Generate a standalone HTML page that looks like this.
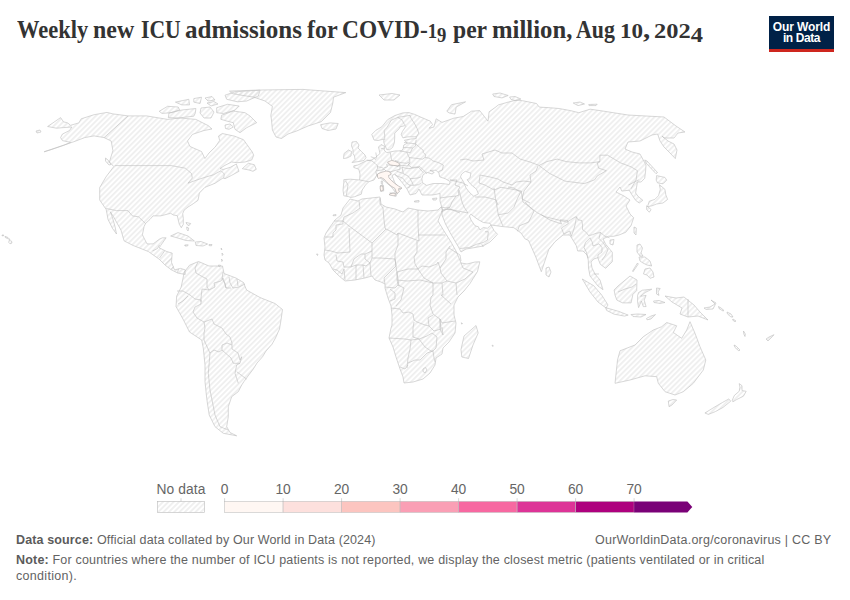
<!DOCTYPE html>
<html><head><meta charset="utf-8">
<style>
html,body{margin:0;padding:0;background:#fff;}
body{width:850px;height:600px;position:relative;overflow:hidden;font-family:"Liberation Sans",sans-serif;}
.t{position:absolute;white-space:nowrap;line-height:15px;}
#title{position:absolute;left:0;top:16px;width:850px;height:30px;}
.tw{position:absolute;top:0;white-space:nowrap;line-height:28px;font-family:"Liberation Serif",serif;font-weight:bold;font-size:25px;color:#333;transform-origin:0 0;}
.os{font-size:0.8em;}.dn{vertical-align:-0.2em;line-height:0;}
#logo{position:absolute;left:769px;top:16px;width:65px;height:36px;background:#002147;}
#logo .bar{position:absolute;left:0;bottom:0;width:65px;height:2.6px;background:#ce261e;}
#logo .l{position:absolute;left:0;width:65px;text-align:center;color:#fff;font-size:12px;font-weight:bold;line-height:12px;letter-spacing:-0.1px;}
.foot{font-size:12.5px;color:#636363;}
.foot b{color:#5b5b5b;}
.leg{font-size:13.8px;color:#666;}
</style></head>
<body>
<div id="title"><div class="tw" style="left:17.2px;transform:scaleX(0.8987)">Weekly</div><div class="tw" style="left:93.44px;transform:scaleX(0.9571)">new</div><div class="tw" style="left:140.93px;transform:scaleX(0.8659)">ICU</div><div class="tw" style="left:185.2px;transform:scaleX(1.0026)">admissions</div><div class="tw" style="left:306.6px;transform:scaleX(0.9645)">for</div><div class="tw" style="left:342.16px;transform:scaleX(0.9355)">COVID-<span class="os">1</span><span class="os dn">9</span></div><div class="tw" style="left:453.2px;transform:scaleX(0.9444)">per</div><div class="tw" style="left:491.91px;transform:scaleX(0.9886)">million,</div><div class="tw" style="left:576.3px;transform:scaleX(0.8727)">Aug</div><div class="tw" style="left:620.3px;transform:scaleX(1.1522)"><span class="os">10</span>,</div><div class="tw" style="left:654.48px;transform:scaleX(1.2231)"><span class="os">202</span><span class="os dn">4</span></div></div>
<div id="logo"><div class="l" style="top:4.6px">Our World</div><div class="l" style="top:16.4px;letter-spacing:-0.4px">in Data</div><div class="bar"></div></div>

<svg id="map" width="850" height="600" style="position:absolute;left:0;top:0">
<defs>
<pattern id="nd" patternUnits="userSpaceOnUse" width="3.77" height="3.77" patternTransform="rotate(-45 2 2)">
<path d="M -1,1.88 l 6,0" stroke="#e0e0e0" stroke-width="0.95"/>
</pattern>
</defs>
<g id="land" fill="url(#nd)" stroke="#bdbdbd" stroke-width="0.6" stroke-linejoin="round">
<polygon points="60.6,117.6 63.5,121.8 67.6,122.9 70.6,125.3 78.8,122.9 81.2,118.8 94.1,114.7 107.1,112.4 112.9,113.9 128.2,115.9 146.5,115.9 167.6,119.4 180.0,118.0 195.9,119.4 208.2,125.6 212.0,129.0 204.0,130.5 192.4,134.4 187.5,141.0 190.0,146.5 201.5,151.5 204.9,158.5 209.0,153.0 215.2,147.0 219.7,140.5 218.5,136.0 222.3,133.5 234.7,136.2 243.5,139.7 252.3,152.0 253.7,155.3 251.7,160.0 245.0,162.0 237.0,162.7 231.7,162.0 225.0,165.3 220.0,168.5 223.0,169.5 230.3,167.3 236.3,164.0 239.0,171.3 231.7,175.3 225.0,178.7 223.0,178.0 215.0,183.3 205.0,187.3 199.4,193.0 198.0,200.3 193.3,203.7 188.0,207.0 184.0,210.3 182.7,213.7 183.3,218.3 183.3,224.3 181.3,227.7 179.3,224.3 178.0,219.0 177.3,215.7 173.3,215.0 170.7,213.3 164.0,215.0 160.6,215.9 153.0,215.9 150.0,219.4 145.5,223.5 144.1,226.5 142.4,234.8 147.0,243.9 153.1,243.9 159.2,239.3 162.3,237.8 166.1,237.8 160.7,245.5 159.2,247.8 166.9,251.6 172.2,253.1 171.5,262.3 174.5,269.9 180.6,268.4 185.2,269.9 185.2,274.5 177.6,273.0 171.5,269.9 165.3,265.3 159.2,259.2 148.5,251.6 133.2,245.5 124.1,240.9 121.0,230.2 113.3,216.4 110.3,211.8 112.0,216.0 115.0,226.5 116.5,234.0 112.4,228.2 108.0,219.4 106.2,209.5 99.7,200.0 99.7,187.6 105.9,177.0 113.8,166.5 109.4,162.0 112.9,150.6 111.2,141.0 104.1,137.6 94.1,135.9 84.7,137.6 75.3,141.2 51.8,149.4 44.1,151.8 63.5,145.3 70.6,142.4 62.4,140.6 60.6,137.6 62.4,134.1 69.4,130.6 71.8,127.0 63.5,127.6 56.5,128.2 47.6,126.5 52.9,122.9"/>
<polygon points="242.3,168.7 248.3,163.3 254.3,164.7 256.3,169.3 253.0,171.3 249.0,170.0"/>
<polygon points="221.7,115.2 233.3,111.0 245.0,112.7 250.0,116.0 256.7,122.7 251.7,125.2 246.7,127.7 240.0,132.7 235.0,129.3 233.3,122.7 226.7,121.0 220.8,119.3"/>
<polygon points="225.0,95.2 235.0,91.8 260.0,90.2 258.3,96.0 246.7,101.0 237.5,101.8 226.7,99.3"/>
<polygon points="229.5,91.1 260.0,90.0 302.9,89.4 345.8,92.6 333.5,97.2 332.9,102.6 330.5,112.5 321.3,121.7 308.0,126.0 296.9,130.9 288.0,134.0 281.5,138.5 276.0,137.0 272.4,130.0 271.5,120.0 270.8,115.6 272.4,106.4 265.0,101.0 254.0,97.2 240.0,95.0 232.0,93.5"/>
<polygon points="320.6,124.7 330.0,122.9 338.2,123.5 336.0,129.0 328.0,130.5 322.0,128.5"/>
<polygon points="170.6,236.0 178.0,232.6 188.0,236.0 194.4,241.0 186.0,240.5 176.0,237.5"/>
<polygon points="195.3,242.0 201.0,241.5 207.6,244.0 203.0,246.0 196.0,245.5"/>
<polygon points="184.7,245.0 188.2,244.8 187.5,246.0 185.0,246.0"/>
<polygon points="184.3,272.0 189.5,265.2 198.5,261.5 209.0,266.0 222.5,266.0 224.0,273.5 236.0,278.0 243.5,282.5 246.5,290.0 260.0,297.5 275.0,303.5 282.5,309.5 281.0,320.0 279.5,329.0 275.5,338.0 271.8,344.5 266.0,351.0 262.5,356.8 257.0,363.0 253.3,369.0 248.0,376.0 244.0,381.5 241.7,385.0 238.3,391.7 231.7,396.7 228.3,406.7 228.3,416.7 226.7,426.7 230.0,432.5 236.7,435.8 223.3,433.3 215.0,426.7 209.2,415.0 206.7,398.3 205.0,381.7 205.0,365.0 203.3,348.3 201.7,340.0 189.5,332.0 183.5,320.0 176.0,306.5 176.7,296.0 181.2,287.0"/>
<polygon points="352.0,142.0 356.5,141.5 359.0,145.0 358.0,148.0 361.5,151.5 365.0,155.0 366.0,157.5 364.0,160.5 359.0,161.5 352.0,162.5 355.0,159.5 354.5,156.0 353.0,153.5 353.0,149.5 351.5,146.0"/>
<polygon points="344.0,153.5 348.5,150.0 351.5,151.5 351.0,156.0 347.0,158.0 343.5,158.5"/>
<polygon points="343.8,195.8 343.0,190.0 343.8,182.5 343.8,179.6 350.5,179.2 359.7,180.0 359.7,179.2 360.0,174.2 358.8,169.2 353.8,167.5 353.8,165.8 358.0,165.0 361.3,163.3 366.3,160.8 371.3,160.0 375.5,157.5 380.0,153.5 378.5,147.0 381.0,144.5 385.0,146.5 384.0,150.0 386.8,152.6 395.6,150.9 401.5,150.9 403.2,148.5 403.8,145.0 407.4,143.2 404.4,140.3 410.3,139.1 416.2,138.5 416.2,136.8 407.9,136.8 402.9,137.9 401.2,134.4 402.4,131.5 405.9,126.2 405.3,125.6 400.0,126.8 399.4,128.5 394.7,133.2 394.7,137.9 394.4,142.6 392.6,147.4 389.7,149.7 386.8,149.7 383.8,142.6 383.8,139.1 378.0,140.5 374.0,140.0 371.8,134.4 375.9,130.3 381.8,126.8 387.6,119.7 394.7,115.6 402.9,112.9 408.8,112.6 414.7,114.4 420.0,116.8 430.3,121.2 432.6,124.7 429.1,128.2 433.8,127.1 436.2,118.8 442.0,122.4 453.8,118.2 463.2,116.5 471.5,111.2 479.7,110.6 484.4,116.5 488.0,121.2 489.1,111.8 495.0,107.6 498.4,104.9 508.2,102.1 516.7,100.0 522.4,100.7 536.5,103.5 539.3,107.1 550.6,107.8 559.1,108.5 570.4,110.6 578.8,112.7 590.1,109.2 600.0,110.6 628.0,115.0 646.0,116.0 664.0,117.0 676.0,126.0 685.0,132.0 678.0,133.0 674.0,138.0 664.0,138.0 662.0,136.0 668.0,141.0 674.0,144.0 677.0,150.0 675.3,158.6 670.0,153.0 664.0,147.0 660.0,141.0 657.6,134.0 652.0,135.0 648.0,137.0 640.0,141.0 628.0,142.0 625.0,149.0 632.0,152.0 640.0,154.0 646.0,165.0 645.6,171.0 644.7,178.3 641.1,182.0 637.4,182.0 636.5,187.5 635.6,193.0 638.3,196.6 642.9,200.3 639.2,203.0 635.6,200.3 631.9,194.8 629.2,190.2 621.8,191.1 620.0,187.0 616.0,192.0 624.0,196.0 630.0,200.0 626.0,206.0 630.0,214.0 633.7,217.7 631.0,225.7 625.7,232.3 619.0,235.0 613.7,236.3 608.3,236.3 603.0,239.0 605.7,244.3 612.3,252.3 612.3,261.7 605.7,268.3 600.3,264.3 597.7,257.7 593.7,259.0 591.0,262.0 592.0,268.0 595.0,274.0 600.0,280.0 603.0,289.7 598.0,286.0 594.0,281.0 590.0,276.0 588.5,268.0 588.3,260.3 587.0,255.0 583.0,251.0 577.7,251.0 576.3,245.7 572.3,239.0 569.7,235.0 563.0,235.0 555.0,241.7 548.7,249.7 545.0,260.7 541.3,271.7 535.8,257.0 528.5,240.5 524.8,238.7 521.2,233.2 513.8,227.7 502.0,226.5 491.0,225.0 494.2,230.8 497.5,234.2 494.0,238.0 490.0,242.0 483.0,246.0 475.0,247.5 466.0,249.0 461.0,252.0 458.5,247.0 455.5,242.0 450.0,232.5 445.5,224.0 442.0,215.0 442.0,208.0 440.0,201.0 440.0,193.5 432.5,195.0 422.0,195.0 419.0,189.0 416.0,193.5 410.0,195.0 407.0,189.0 402.5,183.0 395.0,174.0 392.0,175.5 395.0,183.0 401.0,189.0 398.0,190.5 395.0,192.0 392.0,187.5 386.0,182.3 380.0,177.8 377.0,174.8 374.0,180.0 368.8,181.7 365.5,185.0 362.2,190.0 361.3,194.2 354.7,196.7 350.5,197.5 348.8,196.7"/>
<polygon points="350.0,199.0 358.0,201.0 362.0,199.0 380.0,197.0 381.0,204.0 386.0,207.0 395.0,209.0 403.0,212.0 408.0,208.0 418.0,210.0 428.0,211.0 438.0,210.0 441.0,207.0 443.0,210.0 440.0,216.0 438.0,221.0 444.0,231.0 451.0,242.0 456.0,251.0 459.0,258.0 461.0,263.0 467.0,264.0 475.0,262.0 479.8,261.8 477.5,271.5 470.0,283.5 464.0,291.0 458.0,297.0 454.0,305.0 454.0,315.0 456.0,323.0 455.0,333.0 449.0,342.0 443.0,348.0 442.0,354.0 436.0,358.0 435.0,365.0 430.0,373.0 423.0,379.0 413.0,382.0 404.0,383.0 403.0,377.0 400.0,369.0 396.0,357.0 393.0,347.0 389.0,338.0 391.0,328.0 392.0,325.0 392.0,315.0 391.0,306.0 388.0,298.0 385.0,288.0 385.0,284.0 381.0,282.0 375.0,280.0 372.0,276.0 365.0,278.0 355.0,280.0 345.0,281.0 338.0,275.0 333.0,270.0 329.0,263.0 325.0,260.0 324.0,255.0 325.0,247.0 324.0,238.0 326.0,233.0 330.0,227.0 335.0,220.0 341.0,215.0 343.0,208.0"/>
<polygon points="476.0,325.5 478.2,333.0 473.0,345.0 468.5,358.5 461.8,357.0 461.0,349.5 464.0,336.0"/>
<polygon points="546.0,268.0 549.0,267.0 551.0,272.0 549.0,277.0 546.0,275.0"/>
<polygon points="582.3,279.0 593.7,285.7 601.7,295.0 608.0,305.0 606.0,308.0 598.0,302.0 590.0,292.0"/>
<polygon points="605.6,307.6 618.8,311.4 628.2,315.1 624.5,316.1 614.1,314.2 606.6,310.4"/>
<polygon points="614.1,290.0 618.0,286.0 624.0,281.0 630.0,276.0 637.0,280.0 636.7,290.6 632.9,294.4 631.1,302.9 622.6,302.9 616.9,300.1 615.1,295.4"/>
<polygon points="638.6,292.5 642.4,290.2 651.8,289.2 645.2,292.5 640.5,296.3 646.1,295.4 644.2,300.1 646.1,306.6 643.3,306.6 641.4,301.0 638.6,307.6 637.6,302.0 637.6,295.4"/>
<polygon points="637.0,245.0 640.0,244.0 642.5,248.0 641.0,253.0 643.0,256.0 640.0,256.0 637.0,252.0"/>
<polygon points="665.0,296.0 676.0,298.0 684.0,297.0 694.0,305.0 700.0,312.0 708.0,320.0 698.0,316.0 688.0,317.0 680.0,314.0 682.0,308.0 672.0,302.0"/>
<polygon points="615.0,383.3 617.5,360.0 620.0,350.8 635.0,345.0 643.3,336.7 653.3,330.0 661.7,326.7 666.7,322.5 676.7,325.8 673.3,332.5 681.7,338.3 686.7,330.0 690.0,321.7 695.0,333.3 700.0,346.7 705.8,360.0 703.3,370.0 693.3,383.3 683.3,391.7 675.0,395.0 665.0,391.7 658.3,383.3 656.7,376.7 645.0,375.8 630.0,380.0"/>
<polygon points="668.3,401.0 673.0,399.5 676.7,400.0 672.0,405.0 669.0,406.7"/>
<polygon points="704.9,413.0 714.0,407.4 722.4,402.5 728.7,399.0 730.8,401.1 723.1,407.4 715.4,411.6 708.4,414.4"/>
<polygon points="732.2,400.4 734.3,395.5 739.2,391.3 739.9,387.1 739.2,383.6 742.0,385.7 742.0,390.6 746.2,391.3 743.4,396.2 736.4,399.7 732.9,401.8"/>
<polygon points="659.4,184.7 664.9,189.3 665.8,194.8 667.6,199.4 663.0,203.0 656.6,204.0 652.0,205.8 647.5,206.7 649.3,201.2 654.8,199.4 658.5,195.7 660.3,189.3"/>
<polygon points="656.6,175.6 664.9,177.4 666.7,180.1 663.0,183.8 657.5,182.9 656.2,180.1"/>
<polygon points="644.7,160.0 647.0,161.0 657.5,172.5 656.0,173.7 646.0,163.0"/>
<polygon points="634.0,227.0 636.3,228.0 636.0,235.0 634.0,233.0"/>
<polygon points="610.0,240.0 614.0,239.5 613.0,245.0 610.0,244.0"/>
<polygon points="446.8,111.2 451.5,104.7 465.6,101.8 456.2,107.1 455.0,114.1 449.0,112.9"/>
<polygon points="379.0,95.0 392.0,93.5 400.0,95.0 394.0,100.0 384.0,100.0"/>
<polygon points="509.6,97.0 515.0,96.5 520.9,99.0 516.0,100.7 511.0,99.5"/>
<polygon points="492.7,94.0 500.0,93.0 508.2,95.5 502.0,97.9 494.0,96.5"/>
<polygon points="414.5,201.0 419.0,200.5 419.0,202.0 414.5,202.0"/>
<polygon points="432.5,198.5 437.0,198.0 436.0,200.0 433.0,200.0"/>
<polygon points="389.8,193.0 397.3,192.8 396.0,196.5"/>
<polygon points="380.5,185.5 383.5,185.3 383.7,191.0 380.5,191.3"/>
<polygon points="381.2,181.0 382.7,181.2 382.5,184.5 381.3,184.0"/>
<polygon points="169.0,113.0 181.8,110.0 195.9,108.5 195.2,113.4 193.8,116.2 178.2,118.0 168.3,117.6"/>
<polygon points="175.4,102.1 188.8,99.3 189.5,104.9 181.8,104.9"/>
<polygon points="225.0,125.0 230.0,124.0 233.3,127.0 229.0,129.3 225.5,128.5"/>
<polygon points="573.2,103.0 580.0,102.0 584.5,104.0 578.0,105.6"/>
<polygon points="588.7,104.5 597.2,104.2 596.0,105.6 589.0,105.6"/>
<polygon points="646.6,205.8 651.1,209.5 649.3,212.2 646.6,209.5"/>
<polygon points="639.0,257.0 645.0,257.0 650.0,261.0 651.7,266.0 647.0,265.0 643.0,263.0 640.0,261.0"/>
<polygon points="645.0,269.0 650.0,268.0 653.0,272.0 654.0,277.0 650.0,278.3 647.0,275.0 643.5,274.0"/>
<polygon points="637.5,263.0 638.3,264.0 633.0,271.7 632.5,271.0"/>
<polygon points="656.5,288.0 660.2,288.5 658.0,292.0 659.0,295.4 656.5,294.0"/>
<polygon points="653.6,301.0 659.0,300.5 665.0,302.5 660.0,303.4 654.0,302.5"/>
<polygon points="631.0,314.5 638.0,314.0 646.0,314.5 641.0,317.0 633.0,316.5"/>
<polygon points="646.5,318.5 651.0,316.0 655.5,314.6 651.0,319.0 647.0,319.8"/>
<polygon points="704.0,308.0 710.0,307.0 715.0,304.0 711.0,300.0 716.0,303.0 713.0,309.0 706.0,309.4"/>
<polygon points="718.5,306.5 721.0,308.0 724.0,310.5 723.0,311.0 719.0,308.5"/>
<polygon points="727.0,312.0 731.0,314.0 733.0,317.0 731.0,317.0 727.5,314.0"/>
<polygon points="733.0,319.0 736.0,321.0 735.0,321.8 732.5,320.0"/>
<polygon points="743.5,331.0 745.3,334.0 745.0,336.5 743.8,334.0"/>
<polygon points="734.0,345.0 736.0,346.0 740.0,350.0 739.0,351.0 735.0,347.5"/>
<polygon points="766.0,339.0 769.0,337.0 774.0,334.7 772.0,337.0 768.0,341.0"/>
<polygon points="5.0,236.3 8.0,237.5 10.0,239.6 8.5,239.0 5.3,237.5"/>
<polygon points="9.0,240.5 11.5,241.0 12.0,243.0 10.0,243.8 8.8,242.5"/>
<polygon points="2.0,235.0 3.8,235.0 3.5,235.8 2.0,235.8"/>
<polygon points="201.0,108.0 210.0,107.0 214.0,112.0 211.0,118.0 204.0,118.0 200.0,113.0"/>
<polygon points="36.0,131.0 40.0,130.0 41.0,132.0 37.0,133.0"/>
<polygon points="105.5,158.0 108.0,160.0 111.0,164.5 109.0,165.0 105.5,161.0"/>
<polygon points="186.0,222.5 190.7,223.5 189.0,225.7 187.0,224.5"/>
<polygon points="186.7,227.0 188.7,228.0 188.0,231.0 187.0,229.5"/>
<polygon points="209.0,244.5 212.0,244.5 211.5,245.8 209.0,245.6"/>
<polygon points="159.2,111.3 167.6,106.3 178.2,107.0 179.6,109.9 171.2,112.7 162.0,113.4"/>
<polygon points="193.8,98.6 201.5,97.2 200.1,103.5 193.8,102.1"/>
<polygon points="216.7,107.7 227.5,104.3 239.2,106.0 235.0,110.2 223.3,113.5 216.7,112.7"/>
<polygon points="205.0,98.0 212.0,96.5 215.0,100.0 208.0,101.0"/>
<polygon points="207.0,103.0 214.0,101.5 218.0,104.0 211.0,106.0"/>
<polygon points="221.0,248.0 222.0,249.0 221.5,250.0"/>
<polygon points="222.0,253.0 223.0,254.5 222.3,255.5"/>
<polygon points="221.5,259.0 222.5,260.5 221.8,261.5"/>
<polygon points="218.5,265.0 220.5,265.3 220.0,266.8 218.7,266.5"/>
<polygon points="492.0,345.2 493.2,345.5 492.8,346.6"/>
<polygon points="461.2,322.8 462.5,323.5 461.8,324.2"/>
<polygon points="333.0,215.0 336.0,214.5 336.0,215.6 333.2,215.8"/>
<polygon points="316.5,254.0 318.0,254.2 317.5,255.5"/>
</g><g id="water" fill="#fff" stroke="#bdbdbd" stroke-width="0.6" stroke-linejoin="round">
<polygon points="422.9,175.1 426.6,172.2 432.3,174.1 434.2,172.2 430.0,170.5 436.0,170.2 438.9,173.2 439.8,176.9 445.5,178.8 450.2,181.6 449.2,184.5 442.6,183.5 433.2,183.5 426.6,185.4 422.4,182.6 421.9,178.8"/>
<polygon points="461.5,174.1 465.2,171.3 470.9,173.2 470.0,177.9 467.1,179.8 470.9,184.5 476.5,189.2 478.4,193.9 473.7,196.2 469.9,192.9 466.2,188.2 463.4,181.6 460.5,176.9"/>
<polygon points="470.8,214.2 477.5,219.2 483.3,222.5 490.0,223.3 491.0,225.0 490.0,225.8 487.5,228.3 483.3,227.5 480.0,230.0 478.3,226.7 475.0,225.8 471.0,220.0 469.5,216.0"/>
</g><g id="borders" fill="none" stroke="#bdbdbd" stroke-width="0.6" stroke-linejoin="round">
<polyline points="114.7,165.6 171.2,165.6 185.3,168.2 191.5,173.5 192.3,178.0 188.0,183.2 197.9,179.6 205.0,177.3 213.7,174.7 221.0,170.7 224.3,174.0 223.7,178.0"/>
<polyline points="128.2,115.9 104.1,137.6"/>
<polyline points="106.2,208.5 116.5,210.6 127.9,210.6 132.4,215.9 138.5,216.8 145.5,223.5"/>
<polyline points="152.5,251.0 157.5,248.5 159.5,245.0"/>
<polyline points="159.5,258.0 164.5,251.2"/>
<polyline points="165.0,264.5 171.7,258.0"/>
<polyline points="171.0,269.5 173.5,266.5"/>
<polyline points="177.5,272.8 178.5,268.8"/>
<polyline points="198.0,262.0 195.0,268.0 196.0,273.0 203.0,277.0 207.0,279.0 207.0,287.0 209.0,290.0"/>
<polyline points="209.0,290.0 202.0,289.0 201.0,298.0 201.0,302.0"/>
<polyline points="209.0,290.0 215.0,287.0 214.0,283.0 221.0,281.0 223.0,278.0 226.0,288.0"/>
<polyline points="223.0,272.0 222.0,279.0 225.0,283.0 226.0,288.0 231.0,288.0"/>
<polyline points="229.0,277.0 230.0,283.0 233.0,288.0 239.0,287.0 245.0,284.0"/>
<polyline points="237.0,279.0 238.0,286.0"/>
<polyline points="177.0,291.0 183.0,291.0 190.0,295.0 195.0,299.0 201.0,300.0"/>
<polyline points="178.0,304.0 183.0,301.0 188.0,296.0"/>
<polyline points="201.0,300.0 201.0,304.0 195.0,307.0 193.0,312.0 197.0,318.0 204.0,322.0 212.0,319.0"/>
<polyline points="204.0,322.0 205.0,328.0 204.0,333.0 204.0,340.0"/>
<polyline points="212.0,319.0 214.0,324.0 222.0,328.0 226.0,334.0 230.0,337.0 232.0,343.0 232.0,349.0"/>
<polyline points="204.0,340.0 209.0,351.0 210.0,353.3"/>
<polyline points="210.0,353.0 214.0,350.0 219.0,352.0 222.0,350.0"/>
<polyline points="222.0,350.0 222.0,345.0 227.0,343.0 232.0,345.0"/>
<polyline points="232.0,349.0 238.0,353.0 240.0,360.0 241.7,356.7"/>
<polyline points="222.0,350.0 231.0,358.0 233.3,363.3 240.0,363.3 241.7,356.7"/>
<polyline points="210.0,353.3 208.3,373.3 210.0,390.0 215.0,415.0 220.0,426.7 228.3,430.0"/>
<polyline points="240.0,363.3 236.7,365.0 235.0,373.3 238.3,383.3"/>
<polyline points="236.7,371.7 246.7,379.2"/>
<polyline points="359.7,180.0 364.0,180.8 368.8,181.7"/>
<polyline points="345.5,180.8 348.0,185.0 347.2,190.0 346.3,195.8"/>
<polyline points="366.7,160.0 371.7,160.8 375.0,163.3 377.5,165.8 377.5,168.3 375.8,171.7 376.7,175.0 377.5,177.0"/>
<polyline points="370.8,156.7 375.0,158.3"/>
<polyline points="375.8,152.5 376.7,157.5 375.0,160.0"/>
<polyline points="380.8,148.3 384.2,148.8"/>
<polyline points="390.3,152.6 391.5,159.7 391.7,160.4"/>
<polyline points="387.5,163.8 386.7,164.2 387.5,166.7 383.3,168.3 381.7,167.5 377.5,166.7"/>
<polyline points="376.7,170.8 381.7,170.0 384.2,169.2 386.0,171.0"/>
<polyline points="388.3,165.0 397.5,165.8 400.0,165.0 400.0,169.2 395.0,170.5 390.8,171.7 388.5,171.5"/>
<polyline points="395.0,160.4 400.0,162.5 406.7,163.3 410.0,161.7"/>
<polyline points="406.8,152.1 407.5,154.0 409.2,157.5 410.0,161.7"/>
<polyline points="403.2,147.4 412.6,147.9 410.3,152.6 406.8,152.1 399.7,150.9"/>
<polyline points="404.0,142.5 415.6,143.8"/>
<polyline points="416.2,139.7 415.6,143.8 419.7,147.4 423.2,150.3 423.3,152.5 425.8,155.0 425.0,157.5 430.0,158.3 432.5,160.8 438.3,162.5 443.3,165.0 442.5,170.0 438.3,171.7"/>
<polyline points="409.2,157.5 415.8,158.3 422.5,159.2 425.0,157.5"/>
<polyline points="412.6,147.9 415.6,146.0 415.6,143.8"/>
<polyline points="410.0,162.5 408.3,165.0 411.7,167.5 420.0,166.7 425.0,171.7 427.0,174.0"/>
<polyline points="397.6,117.4 391.2,120.3 387.1,127.4 384.1,130.3 384.7,135.6 384.7,140.0"/>
<polyline points="397.6,117.4 401.8,119.7 404.1,123.8 405.3,125.0"/>
<polyline points="397.6,117.4 405.3,116.2 410.0,115.3 411.2,118.5 414.7,123.8 417.1,128.5 418.8,133.2 416.2,137.4"/>
<polyline points="359.0,201.0 360.0,208.0 353.0,213.0 344.0,217.0 343.0,221.0 334.0,221.0"/>
<polyline points="343.0,221.0 343.0,224.0 336.0,225.0 336.0,230.0 333.0,233.0 333.0,237.0 325.0,237.0"/>
<polyline points="343.0,221.0 349.0,226.0 372.0,243.0 386.0,229.0 390.0,231.0 397.0,235.0"/>
<polyline points="349.0,228.0 350.0,252.0 338.0,253.0 331.0,251.0 325.0,250.0"/>
<polyline points="380.0,198.0 380.0,204.0 383.0,208.0 384.0,220.0 385.0,228.0 386.0,229.0"/>
<polyline points="418.0,210.0 418.0,225.0 419.0,241.0"/>
<polyline points="418.0,235.0 445.0,235.0"/>
<polyline points="419.0,241.0 398.0,233.0 397.0,235.0"/>
<polyline points="398.0,233.0 398.0,245.0 395.0,253.0 395.0,259.0"/>
<polyline points="417.0,241.0 417.0,252.0 414.0,257.0 415.0,264.0 418.0,269.0"/>
<polyline points="397.0,272.0 408.0,269.0 418.0,269.0"/>
<polyline points="418.0,269.0 422.0,266.0 429.0,267.0 437.0,264.0 438.0,262.0 440.0,268.0"/>
<polyline points="440.0,268.0 446.0,259.0 446.0,252.0 450.0,246.0"/>
<polyline points="418.0,269.0 424.0,278.0 433.0,283.0"/>
<polyline points="397.0,280.0 407.0,281.0 420.0,280.0 433.0,283.0"/>
<polyline points="440.0,268.0 441.0,273.0 447.0,281.0"/>
<polyline points="433.0,283.0 442.0,283.0 447.0,281.0"/>
<polyline points="449.0,248.0 460.0,255.0 461.0,261.0"/>
<polyline points="461.0,263.0 463.0,268.0 473.0,272.0 465.0,279.0 456.0,283.0"/>
<polyline points="447.0,281.0 456.0,283.0 457.0,295.0"/>
<polyline points="442.0,283.0 443.0,295.0 441.0,295.0 451.0,304.0"/>
<polyline points="433.0,283.0 433.0,295.0 431.0,297.0 430.0,305.0 433.0,314.0 437.0,317.0 440.0,319.0 442.0,323.0 455.0,321.0"/>
<polyline points="372.0,243.0 372.0,251.0 365.0,254.0 361.0,254.0 354.0,259.0 351.0,267.0 344.0,267.0 343.0,262.0 337.0,261.0 336.0,255.0"/>
<polyline points="365.0,254.0 365.0,259.0 370.0,263.0 366.0,266.0 363.0,265.0 356.0,265.0 351.0,267.0"/>
<polyline points="333.0,269.0 337.0,270.0 342.0,274.0 344.0,269.0"/>
<polyline points="344.0,269.0 345.0,280.0"/>
<polyline points="356.0,265.0 356.0,280.0"/>
<polyline points="363.0,265.0 364.0,278.0"/>
<polyline points="370.0,263.0 371.0,276.0"/>
<polyline points="372.0,258.0 380.0,258.0 395.0,259.0"/>
<polyline points="370.0,263.0 372.0,258.0 372.0,251.0"/>
<polyline points="395.0,259.0 396.0,266.0 389.0,273.0 384.0,278.0 385.0,284.0"/>
<polyline points="395.0,259.0 397.0,273.0 399.0,286.0"/>
<polyline points="385.0,287.0 395.0,288.0 398.0,285.0 397.0,280.0 397.0,272.0"/>
<polyline points="390.0,289.0 395.0,293.0 395.0,299.0 390.0,301.0"/>
<polyline points="398.0,285.0 404.0,288.0 401.0,300.0 396.0,306.0"/>
<polyline points="391.0,308.0 400.0,309.0 403.0,313.0 409.0,312.0 413.0,314.0 414.0,320.0 417.0,322.0 425.0,325.0 429.0,326.0 428.0,318.0 433.0,315.0"/>
<polyline points="414.0,322.0 413.0,328.0 413.0,337.0"/>
<polyline points="389.0,338.0 405.0,339.0 411.0,340.0 419.0,339.0"/>
<polyline points="413.0,337.0 419.0,339.0 427.0,336.0 432.0,333.0"/>
<polyline points="429.0,326.0 434.0,331.0 441.0,329.0 440.0,319.0"/>
<polyline points="440.0,319.0 440.0,329.0 443.0,335.0 442.0,327.0"/>
<polyline points="411.0,340.0 410.0,349.0 408.0,358.0 407.0,368.0"/>
<polyline points="400.0,367.0 405.0,369.0 408.0,365.0"/>
<polyline points="408.0,363.0 415.0,360.0 420.0,360.0 427.0,353.0 433.0,351.0"/>
<polyline points="419.0,339.0 425.0,347.0 431.0,351.0 433.0,351.0"/>
<polyline points="432.0,333.0 437.0,337.0 436.0,348.0 433.0,351.0 434.0,358.0 435.0,362.0"/>
<polyline points="423.0,369.0 425.5,367.5 427.0,370.0 425.0,373.0 423.0,371.5 423.0,369.0"/>
<polyline points="441.0,207.0 446.0,208.0 450.0,207.0"/>
<polyline points="442.0,210.0 450.0,209.0 460.0,213.0"/>
<polyline points="440.0,198.0 447.0,197.0 456.0,196.0 459.0,195.0"/>
<polyline points="450.0,180.0 457.0,180.0 455.0,185.0 460.0,187.0 458.0,190.0 459.0,195.0"/>
<polyline points="450.0,180.0 463.0,183.0 468.0,186.0"/>
<polyline points="456.0,196.0 452.0,202.0 450.0,207.0 447.0,209.0"/>
<polyline points="441.0,212.0 447.0,209.0 453.0,210.0 463.0,212.0 468.0,213.0"/>
<polyline points="459.0,190.0 462.0,202.0 464.0,207.0 468.0,213.0"/>
<polyline points="460.0,248.5 469.2,247.5 476.7,244.2 483.3,242.5 487.5,240.0 488.3,231.7 485.0,231.7"/>
<polyline points="481.7,244.2 483.3,247.0"/>
<polyline points="475.0,197.0 485.0,197.0 493.0,199.0 496.0,200.0 498.0,205.0"/>
<polyline points="494.0,188.0 495.5,198.3 498.3,214.8 502.8,225.8"/>
<polyline points="498.3,214.8 508.3,213.0 513.8,207.5 517.5,198.3 521.2,191.0"/>
<polyline points="479.0,183.0 485.0,185.0 494.0,190.0 501.0,187.3 512.0,189.2 521.2,191.0"/>
<polyline points="460.0,160.0 466.0,159.0 473.0,161.0 484.0,160.0 482.0,154.0 495.0,150.0 502.0,153.0 512.0,153.0 520.0,159.0 530.0,162.0 538.0,165.0 539.0,165.5"/>
<polyline points="538.0,166.0 536.0,171.0 530.0,175.0 531.0,182.0 524.0,191.0 522.0,199.0 530.0,203.0"/>
<polyline points="531.0,182.0 524.0,181.0 516.0,182.0 512.0,185.0 503.0,182.0 498.0,179.0 490.0,177.0 480.0,175.0 479.0,183.0"/>
<polyline points="508.0,187.0 514.0,188.0 520.0,192.0"/>
<polyline points="524.8,202.0 534.0,211.2 528.5,222.2 519.3,225.8 517.5,231.3"/>
<polyline points="521.2,191.0 523.0,202.0 537.7,213.0 545.0,216.7 559.7,220.3 567.0,222.2 575.0,217.0 576.5,216.8"/>
<polyline points="541.3,214.8 550.0,220.0 561.5,224.0 560.0,220.3"/>
<polyline points="560.0,219.8 567.5,220.5 568.3,223.5 561.5,228.0 563.8,234.0 569.8,231.0 571.3,236.3"/>
<polyline points="576.5,216.8 578.0,219.8 581.8,220.5 582.5,225.0 582.5,229.5 586.3,232.5 588.5,235.5 592.3,234.8 596.0,233.3 600.5,232.5 605.0,236.3 609.5,237.8"/>
<polyline points="576.5,216.8 575.0,225.0 573.5,230.3 571.3,236.3"/>
<polyline points="590.0,237.8 585.5,242.3 584.0,247.5 586.3,252.0 588.0,258.0"/>
<polyline points="590.0,237.8 592.3,242.3 593.0,246.0 599.0,243.8 602.0,247.5 602.0,252.0 598.0,255.0 598.0,258.0"/>
<polyline points="600.5,232.5 599.0,238.5 602.8,242.3 608.0,249.8 605.0,256.0 602.0,260.0"/>
<polyline points="539.0,165.5 546.8,161.6 557.2,159.1 566.2,161.6 579.2,162.9 590.8,162.9 599.9,161.6 597.3,162.9 598.6,168.1 606.4,170.7 597.3,175.9 594.7,179.8 584.4,183.6 564.9,181.1 549.4,173.3 539.0,165.5"/>
<polyline points="599.9,161.6 599.9,155.2 607.6,155.2 620.6,162.9 631.0,166.8 637.4,170.7 636.1,179.8 631.0,188.8"/>
<polyline points="628.4,185.0 638.7,179.8"/>
<polyline points="594.0,274.0 599.0,274.0"/>
<polyline points="688.0,299.0 688.0,317.0"/>
<polyline points="618.0,292.0 625.0,289.0 632.0,287.0 636.0,284.0"/>
<polyline points="396.7,171.3 402.7,173.3 408.0,176.0"/>
<polyline points="395.3,175.3 398.7,176.7 402.7,178.0 404.7,180.7"/>
<polyline points="408.0,176.0 410.0,178.7 412.0,182.0"/>
<polyline points="410.0,178.7 418.0,178.0 421.3,176.7"/>
<polyline points="412.0,182.0 413.3,185.3 418.7,184.7 421.3,182.7"/>
<polyline points="404.7,180.7 406.7,183.3 410.0,185.3 413.3,185.3"/>
<polyline points="407.3,188.0 410.0,186.7 410.0,185.3"/>
<polyline points="402.0,167.3 408.0,168.7 418.7,167.3 423.3,172.7"/>
<polyline points="403.3,173.3 402.0,167.3"/>
<polyline points="396.7,166.7 402.0,165.3 407.3,166.0 410.0,162.5"/>
</g><g id="pink" fill="#fff7f3" stroke="#a49e9c" stroke-width="0.55">
<polygon points="387.5,162.1 391.7,160.4 395.0,161.3 399.2,163.3 400.0,164.6 397.5,165.8 393.3,165.4 390.8,165.0 388.8,163.8"/>
<polygon points="377.5,174.0 381.0,172.5 386.0,171.0 388.5,171.5 391.0,173.0 391.0,174.5 388.5,175.5 389.0,178.0 392.0,181.0 395.5,184.0 398.5,186.0 402.0,188.0 401.0,189.0 399.0,188.0 398.5,190.0 399.5,191.5 397.0,193.5 396.0,191.5 395.0,188.5 391.0,186.0 387.0,182.5 384.0,179.0 381.0,177.5 378.5,178.5 377.5,177.0"/>
<polygon points="389.5,194.0 393.0,193.2 395.5,193.5 395.0,196.0 392.0,195.5 389.5,195.0"/>
<polygon points="380.2,186.0 382.7,186.0 383.2,190.0 381.0,191.2 380.2,189.0"/>
</g>
<g id="legend">
<rect x="157.5" y="501.4" width="47" height="11" fill="url(#nd)" stroke="#bbb" stroke-width="0.6"/>
<line x1="181" y1="498.2" x2="181" y2="501.4" stroke="#bbb" stroke-width="0.6"/>
<rect x="224.60" y="501.4" width="58.50" height="11.0" fill="#fff7f3" stroke="#bbb" stroke-opacity="0.9" stroke-width="0.6"/>
<line x1="224.60" y1="498.2" x2="224.60" y2="501.4" stroke="#bbb" stroke-width="0.6"/>
<rect x="283.10" y="501.4" width="58.50" height="11.0" fill="#fde0dd" stroke="#bbb" stroke-opacity="0.9" stroke-width="0.6"/>
<line x1="283.10" y1="498.2" x2="283.10" y2="501.4" stroke="#bbb" stroke-width="0.6"/>
<rect x="341.60" y="501.4" width="58.50" height="11.0" fill="#fcc5c0" stroke="#bbb" stroke-opacity="0.9" stroke-width="0.6"/>
<line x1="341.60" y1="498.2" x2="341.60" y2="501.4" stroke="#bbb" stroke-width="0.6"/>
<rect x="400.10" y="501.4" width="58.50" height="11.0" fill="#fa9fb5" stroke="#bbb" stroke-opacity="0.9" stroke-width="0.6"/>
<line x1="400.10" y1="498.2" x2="400.10" y2="501.4" stroke="#bbb" stroke-width="0.6"/>
<rect x="458.60" y="501.4" width="58.50" height="11.0" fill="#f768a1" stroke="#bbb" stroke-opacity="0.9" stroke-width="0.6"/>
<line x1="458.60" y1="498.2" x2="458.60" y2="501.4" stroke="#bbb" stroke-width="0.6"/>
<rect x="517.10" y="501.4" width="58.50" height="11.0" fill="#dd3497" stroke="#bbb" stroke-opacity="0.9" stroke-width="0.6"/>
<line x1="517.10" y1="498.2" x2="517.10" y2="501.4" stroke="#bbb" stroke-width="0.6"/>
<rect x="575.60" y="501.4" width="58.50" height="11.0" fill="#ae017e" stroke="#bbb" stroke-opacity="0.9" stroke-width="0.6"/>
<line x1="575.60" y1="498.2" x2="575.60" y2="501.4" stroke="#bbb" stroke-width="0.6"/>
<path d="M634.10,501.4 H687.40 L692.30,506.9 L687.40,512.4 H634.10 Z" fill="#7a0177"/>
<line x1="634.10" y1="498.2" x2="634.10" y2="501.4" stroke="#bbb" stroke-width="0.6"/>
</g>
</svg>
<div class="t leg" style="left:156.5px;top:482px;letter-spacing:0.1px">No data</div>
<div class="t leg" style="left:204.60px;width:40px;text-align:center;top:482px">0</div>
<div class="t leg" style="left:263.10px;width:40px;text-align:center;top:482px">10</div>
<div class="t leg" style="left:321.60px;width:40px;text-align:center;top:482px">20</div>
<div class="t leg" style="left:380.10px;width:40px;text-align:center;top:482px">30</div>
<div class="t leg" style="left:438.60px;width:40px;text-align:center;top:482px">40</div>
<div class="t leg" style="left:497.10px;width:40px;text-align:center;top:482px">50</div>
<div class="t leg" style="left:555.60px;width:40px;text-align:center;top:482px">60</div>
<div class="t leg" style="left:614.10px;width:40px;text-align:center;top:482px">70</div>
<div class="t foot" style="left:16px;top:533.1px;letter-spacing:0.135px"><b>Data source:</b> Official data collated by Our World in Data (2024)</div>
<div class="t foot" style="left:595px;top:533.1px;letter-spacing:0.235px">OurWorldinData.org/coronavirus | CC BY</div>
<div class="t foot" style="left:16px;top:553.3px;letter-spacing:0.187px"><b>Note:</b> For countries where the number of ICU patients is not reported, we display the closest metric (patients ventilated or in critical</div>
<div class="t foot" style="left:16px;top:568.8px;letter-spacing:0.3px">condition).</div>
</body></html>
